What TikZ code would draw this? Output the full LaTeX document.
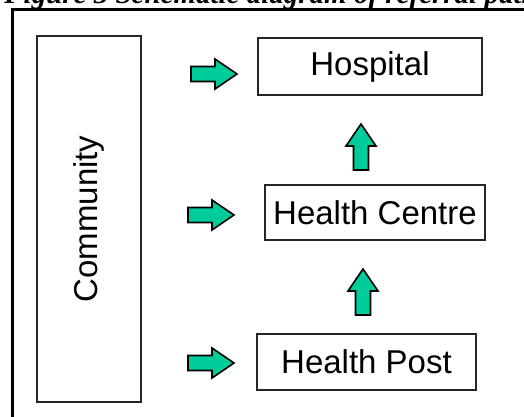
\documentclass[tikz,border=0pt]{standalone}
\usepackage{fontspec}
\setmainfont{Liberation Sans}
\newfontfamily\captionfont{Liberation Serif}
\usetikzlibrary{positioning}

\definecolor{arrowgreen}{RGB}{0,204,153}

\tikzset{
  unit/.style={draw=black!85, line width=1pt, inner sep=0pt, font=\fontsize{16.5}{19}\selectfont},
  fatarrow/.pic={
    \draw[fill=arrowgreen, line width=0.8pt, line join=miter]
      (-23,-7.5) -- (1,-7.5) -- (1,-15) -- (23,0) -- (1,15) -- (1,7.5) -- (-23,7.5) -- cycle;
  }
}

\begin{document}
\begin{tikzpicture}[x=0.5pt, y=-0.5pt]
\useasboundingbox (0,0) rectangle (524,417);
\clip (0,0) rectangle (524,417);
% caption, cut off at the top
\node [anchor=base west, inner sep=0pt, font=\captionfont\fontsize{14.5}{17}\selectfont\bfseries\itshape] (caption) at (4,3.5) {Figure 3 Schematic diagram of referral pathways};
% frame
\draw [line width=1.5pt] (12,440) |- (540,10);
% levels of care
\node [unit, rotate=90, minimum width=183pt, minimum height=52pt] (community) at (89,219) {Community};
\node [unit, minimum width=112pt, minimum height=28.5pt] (hospital) at (370,66.5) {Hospital};
\node [unit, minimum width=110pt, minimum height=27.5pt] (centre) at (375,212.5) {Health Centre};
\node [unit, minimum width=109.5pt, minimum height=28pt] (post) at (366.5,362) {Health Post};
% arrows
\pic at (214,74) {fatarrow};
\pic at (211,215) {fatarrow};
\pic at (211,363) {fatarrow};
\pic [rotate=90] at (361,147) {fatarrow};
\pic [rotate=90] at (363,292) {fatarrow};
\end{tikzpicture}
\end{document}
